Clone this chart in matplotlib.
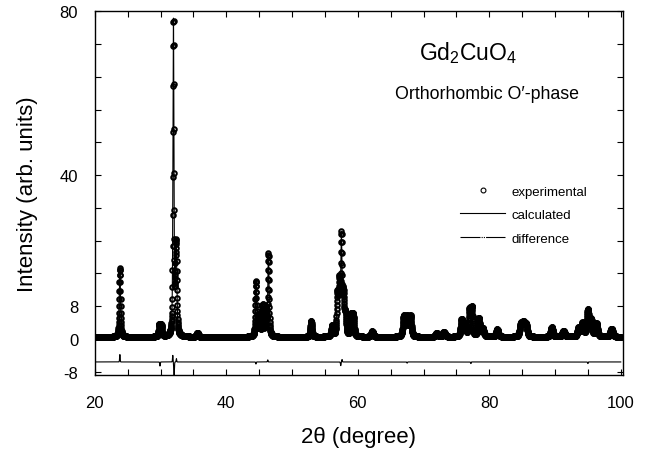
import numpy as np
import matplotlib
matplotlib.use("Agg")
import matplotlib.pyplot as plt
from matplotlib.lines import Line2D

plt.rcParams['font.family'] = ['Liberation Sans', 'DejaVu Sans']
plt.rcParams['mathtext.default'] = 'regular'

# Bragg peaks: position (deg), height (arb. units), FWHM (deg)
peak_pos = [23.8, 29.8, 30.1, 31.95, 32.35, 35.6,
            44.5, 45.0, 45.5, 46.0, 46.4, 52.9, 56.1,
            56.9, 57.2, 57.5, 57.8, 58.1, 59.0, 59.3, 62.2,
            67.0, 67.5, 68.0, 72.0, 73.1, 75.8, 76.3, 77.0, 77.35, 78.4, 79.0,
            81.2, 84.8, 85.2, 85.6, 89.5, 91.3, 93.6, 94.2, 95.0, 95.5, 96.3, 98.6]
peak_int = [16.8, 2.9, 2.9, 76.8, 22.0, 1.0,
            13.5, 5.0, 7.5, 6.5, 20.0, 3.8, 2.5,
            10.0, 12.5, 23.5, 10.0, 5.0, 5.0, 5.0, 1.3,
            5.0, 4.8, 5.0, 0.9, 1.2, 4.2, 3.0, 6.5, 6.8, 4.5, 2.0,
            1.8, 3.0, 3.1, 2.8, 2.3, 1.4, 2.2, 3.3, 6.5, 4.0, 3.2, 2.0]
peak_fwhm = [0.22, 0.25, 0.25, 0.18, 0.25, 0.3,
             0.22, 0.25, 0.25, 0.25, 0.22, 0.28, 0.3,
             0.28, 0.25, 0.2, 0.25, 0.3, 0.3, 0.3, 0.35,
             0.35, 0.35, 0.35, 0.4, 0.4, 0.35, 0.35, 0.3, 0.3, 0.35, 0.4,
             0.4, 0.4, 0.4, 0.4, 0.4, 0.45, 0.4, 0.4, 0.35, 0.35, 0.4, 0.45]
background = 0.5

# difference curve: offset and residual spikes
diff_offset = -5.6
diff_pos = [23.8, 29.9, 31.85, 32.05, 32.4, 44.5, 46.3, 57.4, 57.6, 67.5, 77.2, 95.0]
diff_amp = [1.8, -1.0, 1.6, -3.4, 0.8, -0.5, 0.5, -0.9, 0.6, -0.3, -0.4, -0.4]

x_ticks_major = [20, 40, 60, 80, 100]
y_tick_labels = {-8: '-8', 0: '0', 8: '8', 40: '40', 80: '80'}


def profile(x):
    y = np.full_like(x, background)
    for p, h, w in zip(peak_pos, peak_int, peak_fwhm):
        g = np.exp(-4 * np.log(2) * ((x - p) / w) ** 2)
        l = 1.0 / (1 + 4 * ((x - p) / w) ** 2)
        y += h * (0.5 * g + 0.5 * l)
    return y


def residual(x):
    y = np.full_like(x, diff_offset)
    for p, a in zip(diff_pos, diff_amp):
        y += a * np.exp(-((x - p) / 0.06) ** 2)
    return y


x_calc = np.arange(20, 100.001, 0.005)
x_obs = np.arange(20, 100.001, 0.02)

fig = plt.figure(figsize=(6.5, 4.52), dpi=100)
ax = fig.add_axes([0.146, 0.168, 0.812, 0.805])

ax.plot(x_obs, profile(x_obs), ls='none', marker='o', ms=3.3, mfc='none',
        mec='black', mew=1.4)
ax.plot(x_calc, profile(x_calc), color='black', lw=0.8)
ax.plot(x_calc, residual(x_calc), color='black', lw=0.8)

ax.set_xlim(20, 100.3)
ax.set_ylim(-8.8, 80)
ax.set_xticks(np.arange(20, 101, 5))
ax.set_xticklabels([str(v) if v in x_ticks_major else '' for v in range(20, 101, 5)])
yt = list(range(-8, 81, 8))
ax.set_yticks(yt)
ax.set_yticklabels([y_tick_labels.get(v, '') for v in yt])
ax.tick_params(direction='in', top=True, right=True, length=4, width=0.8,
               labelsize=12)
ax.tick_params(axis='x', pad=14)
ax.tick_params(axis='y', pad=12)
for s in ax.spines.values():
    s.set_linewidth(1.0)

ax.set_xlabel('2θ (degree)', fontsize=16, labelpad=12)
ax.set_ylabel('Intensity (arb. units)', fontsize=16, labelpad=16)

ax.text(0.707, 0.887, 'Gd$_2$CuO$_4$', transform=ax.transAxes, fontsize=16.5,
        ha='center', va='center')
ax.text(0.743, 0.775, 'Orthorhombic O\u2032-phase', transform=ax.transAxes,
        fontsize=12.8, ha='center', va='center')

handles = [Line2D([], [], ls='none', marker='o', ms=3.5, mfc='none', mec='black', mew=0.8),
           Line2D([], [], color='black', lw=0.8),
           Line2D([], [], color='black', lw=0.8, dashes=[18, 1, 1, 1, 1, 1])]
ax.legend(handles, ['experimental', 'calculated', 'difference'], loc='center left',
          bbox_to_anchor=(0.68, 0.44), frameon=False, fontsize=9.5,
          handlelength=3.4, handletextpad=0.5, labelspacing=0.85, borderpad=0)

fig.savefig('out.png', dpi=100)
